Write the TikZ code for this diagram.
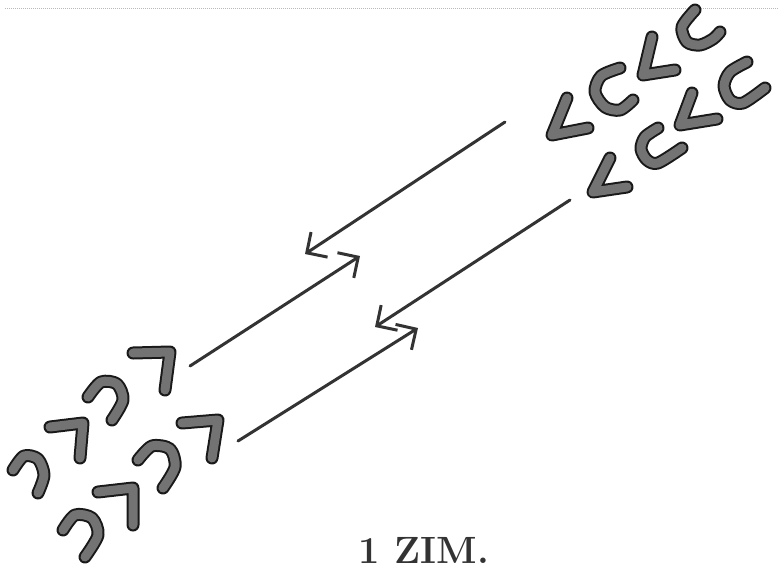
\documentclass[tikz,border=0pt]{standalone}
\usetikzlibrary{arrows.meta}
\tikzstyle{vee} = [
    line width=13pt,
    draw=black!90,
    line cap=round,
    line join=round,
    postaction={draw=black!55, line width=9pt}
]
\tikzstyle{hook} = [vee]
\tikzstyle{arrow} = [
    line width=3pt,
    draw=black!80,
    line cap=round,
    -{Straight Barb[length=15pt, width=30pt]}
]
\tikzstyle{caption} = [font=\fontsize{38}{38}\selectfont\bfseries, text=black!80]

\begin{document}
\begin{tikzpicture}[x=1pt, y=-1pt]

\useasboundingbox (0,0) rectangle (779,579);

% scan edge
\draw [gray!55, line width=1pt, densely dotted] (5,8) -- (779,8);

% upper right group
\draw [vee] (652,37) -- (643,75) -- (675,70);
\draw [vee] (567,98) -- (552,135) -- (588,128);
\draw [vee] (692,93) -- (680,125) -- (717,119);
\draw [vee] (610,158) -- (593,192) -- (627,187);

\draw [hook] plot [smooth] coordinates
    {(695,10) (682,27) (687,42) (700,45) (713,39) (720,32)};
\draw [hook] plot [smooth] coordinates
    {(620,68) (601,76) (595,92) (605,107) (620,110) (633,100)};
\draw [hook] plot [smooth] coordinates
    {(747,62) (730,72) (724,86) (730,100) (743,103) (765,88)};
\draw [hook] plot [smooth] coordinates
    {(658,128) (645,137) (641,149) (647,160) (658,163) (682,148)};

% lower left group
\draw [vee] (133,353) -- (170,352) -- (165,390);
\draw [vee] (50,427) -- (83,423) -- (80,458);
\draw [vee] (182,423) -- (218,420) -- (212,458);
\draw [vee] (98,492) -- (133,488) -- (133,525);

\draw [hook] plot [smooth] coordinates
    {(88,397) (101,382) (117,384) (123,400) (112,420)};
\draw [hook] plot [smooth] coordinates
    {(13,470) (24,456) (38,459) (44,475) (38,493)};
\draw [hook] plot [smooth] coordinates
    {(138,460) (152,446) (170,449) (175,467) (163,488)};
\draw [hook] plot [smooth] coordinates
    {(63,530) (75,515) (92,518) (98,535) (85,557)};

% arrows
\coordinate (a1start) at (505,122);
\coordinate (a1end) at (305,254);
\coordinate (b1start) at (190,366);
\coordinate (b1end) at (360,256);
\coordinate (a2start) at (570,200);
\coordinate (a2end) at (375,327);
\coordinate (b2start) at (238,441);
\coordinate (b2end) at (418,328);

\draw [arrow] (a1start) -- (a1end);
\draw [arrow] (b1start) -- (b1end);
\draw [arrow] (a2start) -- (a2end);
\draw [arrow] (b2start) -- (b2end);

\node (label) [caption] at (424,550) {1 ZIM.};

\end{tikzpicture}
\end{document}
